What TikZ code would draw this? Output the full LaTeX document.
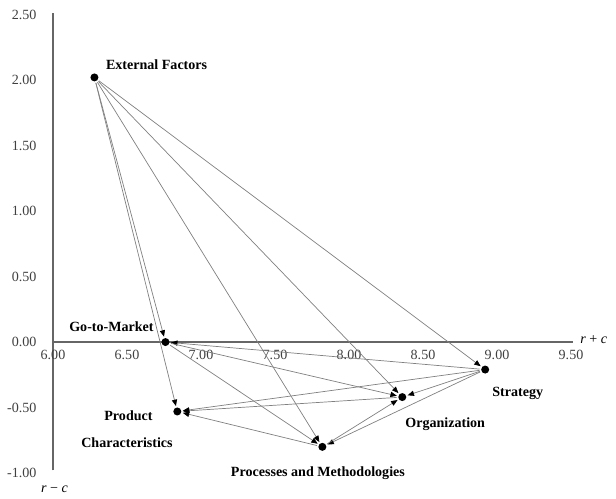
\documentclass[tikz,border=0pt]{standalone}
\usepackage{fontspec}
\setmainfont{Liberation Serif}
\usetikzlibrary{arrows.meta}
\tikzset{
  dot/.style={circle,fill=black,inner sep=0pt,minimum size=2mm,outer sep=0.4mm},
  lbl/.style={font=\bfseries},
  num/.style={text=black!75},
  axis/.style={draw=black!60,line width=0.8pt},
  link/.style={draw=black!50,line width=0.5pt,-{Triangle[length=1.6mm,width=1.3mm,color=black]}}
}
\begin{document}
\begin{tikzpicture}[x=3.7cm,y=3.275cm]
\useasboundingbox (5.642,-1.191) rectangle (9.804,2.611);
% axes
\draw[axis] (6,-0.98) -- (6,2.51);
\draw[axis] (6,0) -- (9.51,0);
\foreach \y/\t in {2.5/2.50,2/2.00,1.5/1.50,1/1.00,0.5/0.50,0/0.00,-0.5/-0.50,-1/-1.00}
  \draw(5.89,\y) node[num,anchor=east,inner sep=0pt] (y\t) {\t};
\foreach \x/\t in {6/6.00,6.5/6.50,7/7.00,7.5/7.50,8/8.00,8.5/8.50,9/9.00,9.5/9.50}
  \draw(\x,-0.10) node[num,inner sep=0pt] (x\t) {\t};
\node[anchor=west] (rplusc) at (9.53,0.015) {\textit{r} + \textit{c}};
\node (rminusc) at (6.01,-1.12) {\textit{r} − \textit{c}};
% factors
\node[dot] (ext) at (6.28,2.02) {};
\node[dot] (gtm) at (6.76,0.00) {};
\node[dot] (str) at (8.92,-0.21) {};
\node[dot] (org) at (8.36,-0.42) {};
\node[dot] (pc) at (6.84,-0.53) {};
\node[dot] (pm) at (7.82,-0.80) {};
% labels
\draw(6.70,2.115) node[lbl] (extlbl) {External Factors};
\draw(6.395,0.115) node[lbl] (gtmlbl) {Go-to-Market};
\draw(9.14,-0.39) node[lbl] (strlbl) {Strategy};
\draw(8.65,-0.626) node[lbl] (orglbl) {Organization};
\draw(6.51,-0.565) node[lbl] (pclbl) {Product};
\draw(6.50,-0.77) node[lbl] (pclbltwo) {Characteristics};
\draw(7.79,-1.0) node[lbl] (pmlbl) {Processes and Methodologies};
% influences
\foreach \a/\b in {ext/gtm,ext/pc,ext/pm,ext/org,ext/str,str/gtm,str/org,str/pc,str/pm,gtm/org,gtm/pm,org/pc,pm/org,pm/pc}
  \draw[link] (\a) -- (\b);
\end{tikzpicture}
\end{document}
